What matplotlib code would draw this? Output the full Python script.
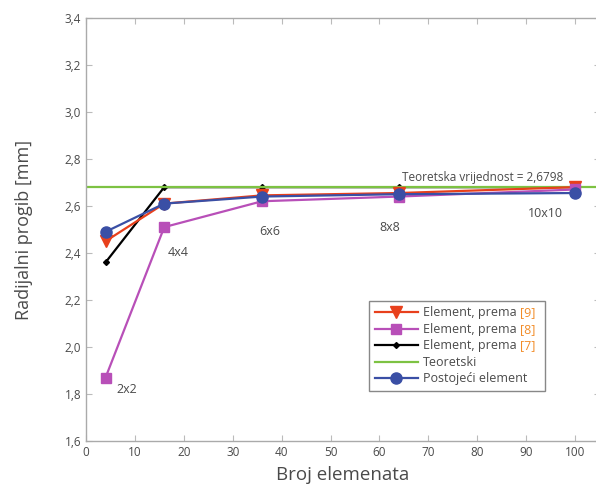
import matplotlib
matplotlib.use("Agg")
import matplotlib.pyplot as plt

plt.rcParams['font.family'] = ['Open Sans', 'DejaVu Sans']

# broj elemenata u mreži (2x2, 4x4, 6x6, 8x8, 10x10)
elements = [4, 16, 36, 64, 100]
mesh_labels = ['2x2', '4x4', '6x6', '8x8', '10x10']

prema_9 = [2.45, 2.61, 2.645, 2.655, 2.68]
prema_8 = [1.87, 2.51, 2.62, 2.64, 2.67]
prema_7 = [2.36, 2.68, 2.68, 2.68, 2.68]
postojeci = [2.49, 2.61, 2.64, 2.65, 2.655]
teoretski = 2.6798

# reference uz oznake u legendi
refs = ['[9]', '[8]', '[7]', '', '']

# položaj oznaka mreže uz točke
label_x = [8.4, 18.8, 37.6, 62.2, 93.9]
label_y = [1.82, 2.40, 2.49, 2.51, 2.57]

text_col = '#4a4a4a'
ref_col = '#f28c28'
fs = 9

fig = plt.figure(figsize=(5.96, 4.88), dpi=100)
ax = fig.add_axes([0.1443, 0.0963, 0.8616, 0.867])

ax.plot(elements, prema_9, color='#e8401c', lw=1.6, marker='v', ms=8,
        label='Element, prema', zorder=3)
ax.plot(elements, prema_8, color='#b84fb8', lw=1.6, marker='s', ms=7,
        label='Element, prema', zorder=3)
ax.plot(elements, prema_7, color='black', lw=1.6, marker='D', ms=3,
        label='Element, prema', zorder=2)
ax.axhline(teoretski, color='#7dc242', lw=1.6, label='Teoretski', zorder=2.5)
ax.plot(elements, postojeci, color='#3a4fa5', lw=1.6, marker='o', ms=8,
        label='Postojeći element', zorder=3)

for lx, ly, s in zip(label_x, label_y, mesh_labels):
    ax.text(lx, ly, s, fontsize=9, color=text_col, ha='center', va='center')
ax.text(81, 2.72, 'Teoretska vrijednost = 2,6798', fontsize=8.5,
        color=text_col, ha='center', va='center')

ax.set_xlim(0, 105)
ax.set_ylim(1.6, 3.4)
ax.set_xticks(range(0, 101, 10))
ax.set_yticks([1.6 + 0.2 * i for i in range(10)])
ax.set_yticklabels([f'{1.6 + 0.2 * i:.1f}'.replace('.', ',') for i in range(10)])
ax.tick_params(direction='in', length=4, color='#bbbbbb', labelcolor=text_col,
               labelsize=8.5, top=True, right=True)
for sp in ax.spines.values():
    sp.set_color('#aaaaaa')
    sp.set_linewidth(1.0)

ax.set_xlabel('Broj elemenata', fontsize=13.5, color=text_col, labelpad=5)
ax.set_ylabel('Radijalni progib [mm]', fontsize=13, color=text_col, labelpad=23)

leg = ax.legend(loc='lower left', bbox_to_anchor=(0.551, 0.118, 0.343, 0.234),
                mode='expand', borderaxespad=0,
                fancybox=False, edgecolor='#888888', fontsize=fs,
                handlelength=3.5, handletextpad=0.4, labelspacing=0.28,
                borderpad=0.45, framealpha=1)
leg.get_frame().set_linewidth(1.0)
for t in leg.get_texts():
    t.set_color(text_col)

# narančaste reference odmah iza teksta legende, na istoj osnovnoj liniji
fig.canvas.draw()
renderer = fig.canvas.get_renderer()
for t, ref in zip(leg.get_texts(), refs):
    if not ref:
        continue
    bb = t.get_window_extent(renderer)
    prop = t.get_fontproperties()
    _, _, d_s = renderer.get_text_width_height_descent(t.get_text(), prop, ismath=False)
    _, _, d_lp = renderer.get_text_width_height_descent('lp', prop, ismath=False)
    base = bb.y0 + max(d_s, d_lp)
    fig.text(bb.x1 + 3.5, base, ref, transform=None, fontsize=fs,
             color=ref_col, ha='left', va='baseline', zorder=10)

fig.savefig('out.png', dpi=100)
